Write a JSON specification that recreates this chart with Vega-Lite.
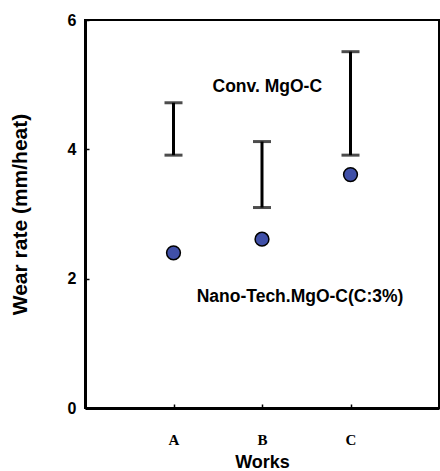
{
  "$schema": "https://vega.github.io/schema/vega-lite/v6.json",
  "width": 354,
  "height": 388,
  "autosize": {"type": "none"},
  "padding": {"left": 85, "top": 20, "right": 1, "bottom": 63},
  "background": "white",
  "config": {
    "view": {"stroke": "black", "strokeWidth": 2},
    "axis": {"grid": false, "domainColor": "black", "tickColor": "black"}
  },
  "datasets": {
    "works": [
      {"work": "A", "pos": 1, "lo": 3.91, "hi": 4.72, "nano": 2.40},
      {"work": "B", "pos": 2, "lo": 3.10, "hi": 4.12, "nano": 2.61},
      {"work": "C", "pos": 3, "lo": 3.91, "hi": 5.51, "nano": 3.61}
    ],
    "labels": [
      {"lx": 2.06, "ly": 4.96, "text": "Conv. MgO-C"},
      {"lx": 2.43, "ly": 1.72, "text": "Nano-Tech.MgO-C(C:3%)"}
    ]
  },
  "layer": [
    {
      "data": {"name": "works"},
      "mark": {"type": "rule", "color": "black", "strokeWidth": 3},
      "encoding": {
        "x": {
          "field": "pos", "type": "quantitative",
          "scale": {"domain": [0, 4], "nice": false},
          "axis": {
            "values": [1, 2, 3],
            "labelExpr": "datum.value == 1 ? 'A' : datum.value == 2 ? 'B' : 'C'",
            "title": "Works",
            "titleFont": "Liberation Sans", "titleFontSize": 18, "titleFontWeight": "bold",
            "titleColor": "black", "titlePadding": 6,
            "labelFont": "Liberation Serif", "labelFontSize": 15, "labelFontWeight": "bold",
            "labelColor": "black", "labelPadding": 28,
            "domainWidth": 3, "tickSize": -4, "tickWidth": 1.5
          }
        },
        "y": {
          "field": "lo", "type": "quantitative",
          "scale": {"domain": [0, 6], "nice": false},
          "axis": {
            "values": [0, 2, 4, 6],
            "format": "d",
            "title": "Wear rate (mm/heat)",
            "titleFont": "Liberation Sans", "titleFontSize": 21, "titleFontWeight": "bold",
            "titleColor": "black", "titlePadding": 37,
            "labelFont": "Liberation Sans", "labelFontSize": 16, "labelFontWeight": "bold",
            "labelColor": "black", "labelPadding": 13,
            "domainWidth": 3, "tickSize": -4, "tickWidth": 1.5
          }
        },
        "y2": {"field": "hi"}
      }
    },
    {
      "data": {"name": "works"},
      "mark": {"type": "tick", "color": "black", "thickness": 3, "size": 18, "orient": "horizontal"},
      "encoding": {
        "x": {"field": "pos", "type": "quantitative"},
        "y": {"field": "lo", "type": "quantitative"}
      }
    },
    {
      "data": {"name": "works"},
      "mark": {"type": "tick", "color": "black", "thickness": 3, "size": 18, "orient": "horizontal"},
      "encoding": {
        "x": {"field": "pos", "type": "quantitative"},
        "y": {"field": "hi", "type": "quantitative"}
      }
    },
    {
      "data": {"name": "works"},
      "mark": {"type": "point", "shape": "circle", "filled": true, "fill": "#4050A8", "stroke": "black", "strokeWidth": 1.5, "opacity": 1, "size": 190},
      "encoding": {
        "x": {"field": "pos", "type": "quantitative"},
        "y": {"field": "nano", "type": "quantitative"}
      }
    },
    {
      "data": {"name": "labels"},
      "mark": {"type": "text", "font": "Liberation Sans", "fontSize": 17.5, "fontWeight": "bold", "color": "black", "align": "center", "baseline": "middle"},
      "encoding": {
        "x": {"field": "lx", "type": "quantitative"},
        "y": {"field": "ly", "type": "quantitative"},
        "text": {"field": "text"}
      }
    }
  ]
}
